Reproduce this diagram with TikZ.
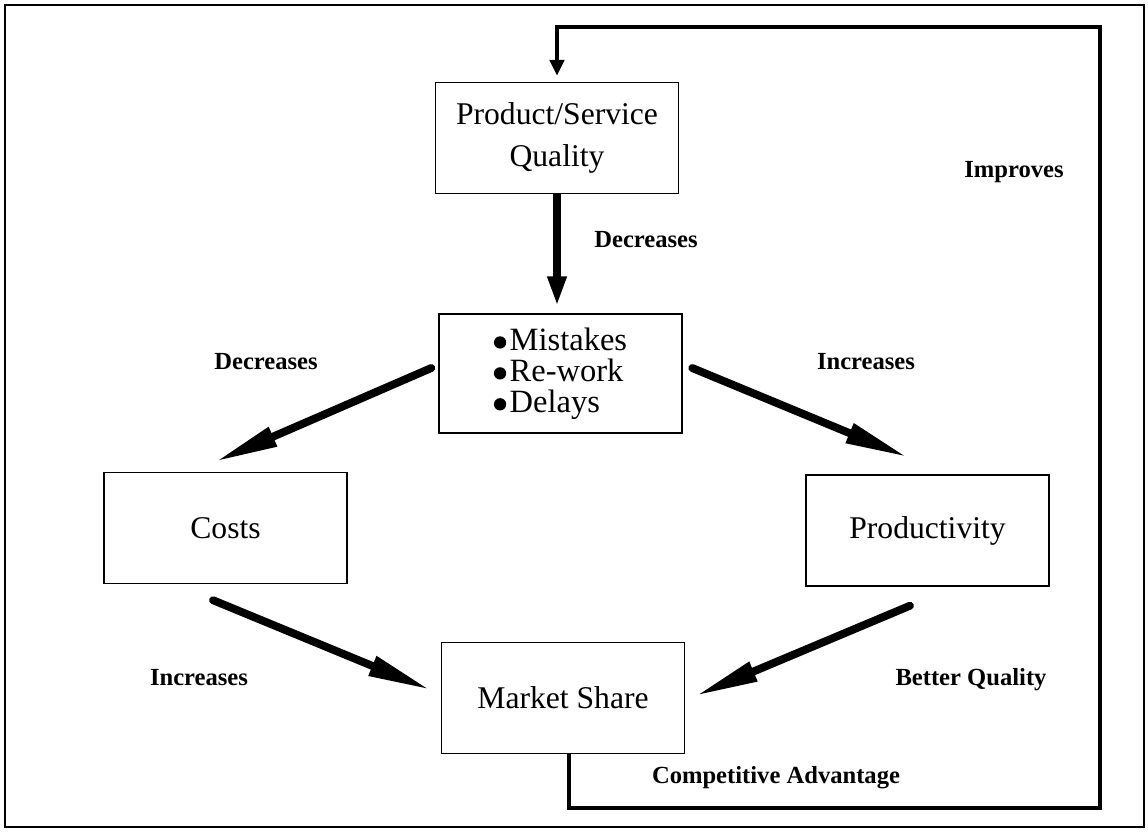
\documentclass[tikz,border=0pt]{standalone}
\usepackage{fontspec}
\setmainfont{Liberation Serif}
\usetikzlibrary{arrows.meta}

\newcommand{\bigdot}{\raisebox{1pt}{\tikz\fill (0,0) circle (3.5pt);}\hspace{2pt}}

\begin{document}
\begin{tikzpicture}[x=0.02cm,y=-0.02cm,
  box/.style={draw,line width=0.8pt,minimum width=4.86cm,minimum height=2.22cm,
    font=\fontsize{18}{24}\selectfont,align=center},
  lbl/.style={font=\fontsize{14}{16}\selectfont\bfseries},
  bigarrow/.style={line width=4.5pt,line cap=round,-{Triangle[length=36pt,width=11pt]}},
  downarrow/.style={line width=4.5pt,-{Triangle[length=17pt,width=10pt]}},
  looparrow/.style={line width=2.6pt,-{Triangle[length=9pt,width=8pt]}}]
% page and outer border
\useasboundingbox (0,0) rectangle (1148,832);
\draw[line width=1.4pt] (5,5) rectangle (1144,827);

% draw boxes
\node[box] (quality) at (557,138) {Product/Service\\Quality};
\node[box,minimum height=2.38cm,font=\fontsize{18.5}{17.6}\selectfont,align=left] (mistakes) at (560.5,373.5)
  {\bigdot Mistakes\\\bigdot Re-work\\\bigdot Delays};
\node[box] (costs) at (225.5,528) {Costs};
\node[box] (productivity) at (927.5,530.5) {Productivity};
\node[box] (market) at (563,698) {Market Share};

% draw arrows between boxes
\draw[downarrow,shorten >=0.14cm] (quality.south) -- (quality.south |- mistakes.north);
\draw[bigarrow] ([xshift=-0.14cm,yshift=0.11cm]mistakes.west) -- ([xshift=-0.21cm,yshift=0.2cm]costs.north);
\draw[bigarrow] ([xshift=0.19cm,yshift=0.11cm]mistakes.east) -- ([xshift=-0.39cm,yshift=0.34cm]productivity.north);
\draw[bigarrow] ([xshift=-0.25cm,yshift=-0.32cm]costs.south) -- ([xshift=-0.2cm,yshift=0.16cm]market.west);
\draw[bigarrow] ([xshift=-0.35cm,yshift=-0.38cm]productivity.south) -- ([xshift=0.2cm,yshift=0.04cm]market.east);

% draw feedback loop
\coordinate (loopbr) at (1100,808);
\coordinate (looptr) at (1100,27);
\draw[looparrow,shorten >=0.12cm] ([xshift=0.12cm]market.south) |- (loopbr) -- (looptr) -| (quality.north);

% draw labels
\node[lbl] (decq) at (646,240) {Decreases};
\node[lbl] (decc) at (266,362) {Decreases};
\node[lbl] (incp) at (866,362) {Increases};
\node[lbl] (incm) at (199,678) {Increases};
\node[lbl] (better) at (971,680) {Better Quality};
\node[lbl] (compadv) at (776,778) {Competitive Advantage};
\node[lbl] (improves) at (1014,172) {Improves};
\end{tikzpicture}
\end{document}
